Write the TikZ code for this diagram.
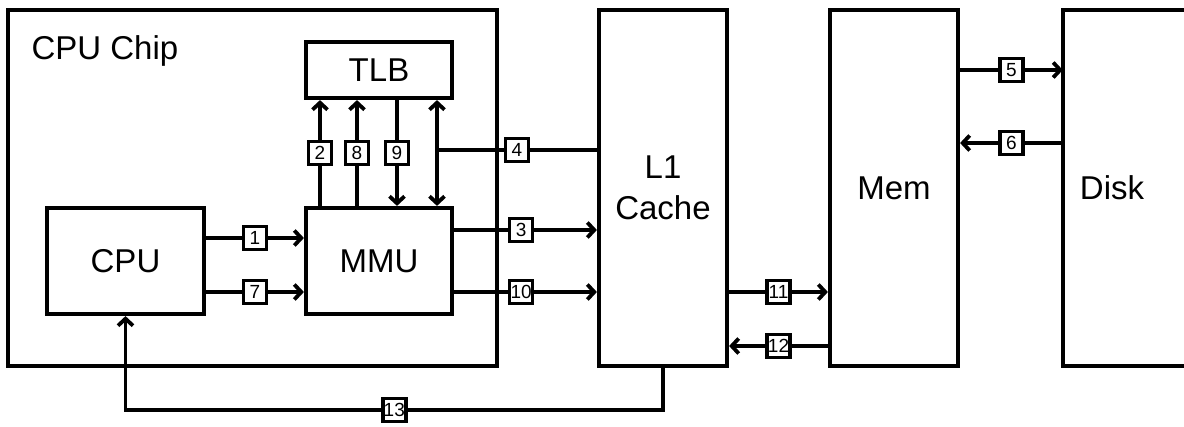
\documentclass[tikz,border=0pt]{standalone}
\usepackage{fontspec}
\setmainfont{Liberation Sans}
\usetikzlibrary{arrows.meta}
\tikzset{
  blk/.style={draw, line width=4.2pt, inner sep=0pt, font=\fontsize{33}{41}\selectfont},
  link/.style={line width=3.8pt},
  arr/.style={link, -{Straight Barb[length=7pt,width=15pt]}},
  darr/.style={link, {Straight Barb[length=7pt,width=15pt]}-{Straight Barb[length=7pt,width=15pt]}},
  num/.style={draw, fill=white, line width=3.5pt, minimum width=23pt, minimum height=23pt, inner sep=0.5pt, font=\fontsize{19}{19}\selectfont},
}

\begin{document}
\begin{tikzpicture}[x=1pt, y=-1pt]
  \useasboundingbox (0,0) rectangle (1184,427);
  % chip and its parts
  \node[blk, minimum width=489pt, minimum height=356pt] (chip) at (252.5,188) {};
  \node[anchor=base west, font=\fontsize{33}{41}\selectfont] (chiptxt) at (28,60) {CPU Chip};
  \node[blk, minimum width=146pt, minimum height=56pt] (tlb) at (379,70) {TLB};
  \node[blk, minimum width=146pt, minimum height=106pt] (mmu) at (379,261) {MMU};
  \node[blk, minimum width=157pt, minimum height=106pt] (cpu) at (125.5,261) {CPU};
  % memory hierarchy
  \node[blk, minimum width=128pt, minimum height=356pt, align=center] (l1) at (663,188) {L1\\Cache};
  \node[blk, minimum width=128pt, minimum height=356pt] (mem) at (894,188) {Mem};
  \node[inner sep=0pt, minimum width=98pt, minimum height=356pt, font=\fontsize{33}{41}\selectfont] (disk) at (1112,188) {Disk};
  \draw[line width=4.2pt] ([xshift=40pt]disk.north east) -- (disk.north west) -- (disk.south west) -- ([xshift=40pt]disk.south east);
  % cpu -> mmu
  \draw[arr] ([yshift=23pt]cpu.east) -- node[num] {1} ([yshift=23pt]mmu.west);
  \draw[arr] ([yshift=-31pt]cpu.east) -- node[num] {7} ([yshift=-31pt]mmu.west);
  % mmu <-> tlb
  \draw[arr] ([xshift=-59pt]mmu.north) -- node[num] {2} ([xshift=-59pt]tlb.south);
  \draw[arr] ([xshift=-22pt]mmu.north) -- node[num] {8} ([xshift=-22pt]tlb.south);
  \draw[arr] ([xshift=18pt]tlb.south) -- node[num] {9} ([xshift=18pt]mmu.north);
  \draw[darr] ([xshift=58pt]mmu.north) coordinate (j4) -- ([xshift=58pt]tlb.south);
  \coordinate (l4) at ([yshift=38pt]l1.west);
  \draw[link] (l4) -- node[num] {4} (j4 |- l4);
  % mmu -> l1
  \draw[arr] ([yshift=31pt]mmu.east) -- node[num, pos=0.47] {3} ([yshift=31pt]mmu.east -| l1.west);
  \draw[arr] ([yshift=-31pt]mmu.east) -- node[num, pos=0.47] {10} ([yshift=-31pt]mmu.east -| l1.west);
  % l1 <-> mem
  \draw[arr] ([yshift=-104pt]l1.east) -- node[num] {11} ([yshift=-104pt]mem.west);
  \draw[arr] ([yshift=-158pt]mem.west) -- node[num] {12} ([yshift=-158pt]l1.east);
  % mem <-> disk
  \draw[arr] ([yshift=118pt]mem.east) -- node[num] {5} ([yshift=118pt]disk.west);
  \draw[arr] ([yshift=45pt]disk.west) -- node[num] {6} ([yshift=45pt]mem.east);
  % l1 -> cpu
  \draw[arr] (l1.south) -- ++(0,42) -| node[num, pos=0.25] {13} (cpu.south);
\end{tikzpicture}
\end{document}
